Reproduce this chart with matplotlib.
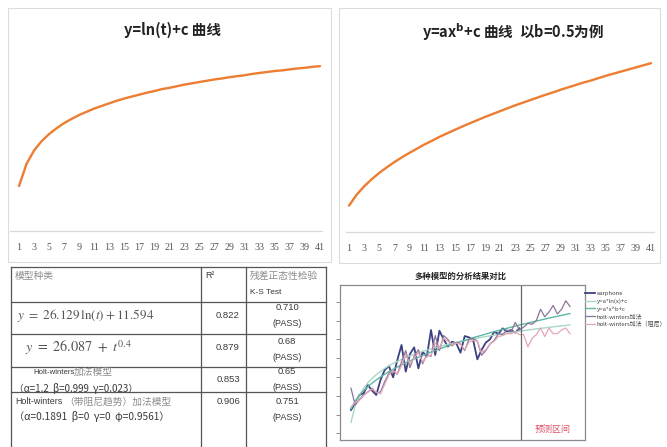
import matplotlib
matplotlib.use("Agg")
import matplotlib.pyplot as plt
from matplotlib.patches import Rectangle

plt.rcParams['font.family'] = ['DejaVu Sans', 'Noto Sans CJK SC']

W, H = 667, 447
CJK = ['Noto Sans CJK SC', 'DejaVu Sans']
ORANGE = '#ED7D31'

# ---- data -------------------------------------------------------------
t_top = list(range(1, 42))
tick_top = list(range(1, 42, 2))

# y = ln(t) + c  (c taken as 0)
log_curve = [0.00, 0.69, 1.10, 1.39, 1.61, 1.79, 1.95, 2.08, 2.20, 2.30,
             2.40, 2.48, 2.56, 2.64, 2.71, 2.77, 2.83, 2.89, 2.94, 3.00,
             3.04, 3.09, 3.14, 3.18, 3.22, 3.26, 3.30, 3.33, 3.37, 3.40,
             3.43, 3.47, 3.50, 3.53, 3.56, 3.58, 3.61, 3.64, 3.66, 3.69, 3.71]

# y = a*x^b + c with b = 0.5
pow_curve = [1.00, 1.41, 1.73, 2.00, 2.24, 2.45, 2.65, 2.83, 3.00, 3.16,
             3.32, 3.46, 3.61, 3.74, 3.87, 4.00, 4.12, 4.24, 4.36, 4.47,
             4.58, 4.69, 4.80, 4.90, 5.00, 5.10, 5.20, 5.29, 5.39, 5.48,
             5.57, 5.66, 5.74, 5.83, 5.92, 6.00, 6.08, 6.16, 6.24, 6.32, 6.40]

# model comparison: 41 observed months + 12 forecast months
t_obs = list(range(1, 42))
t_all = list(range(1, 54))

earphone = [24.8, 31.9, 40.8, 42.6, 51.4, 45.4, 40.8, 56.7, 67.4, 71.6,
            59.6, 78.0, 94.0, 65.6, 84.4, 91.5, 69.1, 86.9, 81.6, 109.9,
            83.3, 109.2, 100.0, 92.2, 97.5, 95.7, 85.8, 103.5, 102.1, 99.3,
            78.7, 88.7, 96.5, 100.0, 108.2, 105.7, 111.7, 108.2, 109.9, 107.1, 111.7]

fit_ln = [11.6, 29.7, 40.3, 47.8, 53.7, 58.4, 62.4, 65.9, 69.0, 71.8,
          74.3, 76.5, 78.6, 80.6, 82.4, 84.0, 85.6, 87.1, 88.5, 89.9,
          91.1, 92.4, 93.5, 94.6, 95.7, 96.7, 97.7, 98.7, 99.6, 100.5,
          101.3, 102.2, 103.0, 103.7, 104.5, 105.2, 105.9, 106.6, 107.3, 108.0,
          108.6, 109.3, 109.9, 110.5, 111.1, 111.6, 112.2, 112.7, 113.3, 113.8,
          114.3, 114.8, 115.3]

fit_pow = [26.1, 34.4, 40.5, 45.4, 49.7, 53.4, 56.8, 59.9, 62.8, 65.5,
           68.1, 70.5, 72.8, 75.0, 77.1, 79.1, 81.0, 82.9, 84.7, 86.5,
           88.2, 89.8, 91.4, 93.0, 94.5, 96.0, 97.5, 98.9, 100.3, 101.7,
           103.0, 104.3, 105.6, 106.9, 108.1, 109.4, 110.6, 111.7, 112.9, 114.0,
           115.2, 116.3, 117.3, 118.4, 119.5, 120.5, 121.5, 122.6, 123.6, 124.5,
           125.5, 126.5, 127.4]

hw_add = [48, 30, 36, 41, 44, 48, 43, 44, 55, 64,
          66, 63, 76, 88, 70, 82, 89, 74, 84, 82,
          104, 88, 104, 100, 93, 97, 95, 88, 100, 101,
          98, 83, 88, 95, 99, 106, 105, 110, 108, 118,
          110, 113, 117, 116, 120, 132, 124, 129, 136, 127,
          132, 141, 135]

hw_damped = [28, 33, 35, 40, 44, 47, 44, 42, 52, 62,
             67, 63, 72, 84, 74, 80, 86, 76, 82, 83,
             96, 90, 101, 98, 94, 96, 95, 89, 97, 99,
             98, 86, 89, 95, 98, 103, 104, 106, 106, 108,
             105, 105, 92, 101, 105, 112, 103, 112, 106, 106,
             110, 112, 106]

forecast_start = 41.3
y_ticks = [0, 20, 40, 60, 80, 100, 120, 140]

legend_labels = ['earphone', 'y=a*ln(x)+c', 'y=a*x^b+c',
                 'holt-winters加法', 'holt-winters加法（阻尼）']

# table contents
tbl_head = ['模型种类', 'R²', '残差正态性检验', 'K-S Test']
r2_vals = ['0.822', '0.879', '0.853', '0.906']
ks_vals = ['0.710', '0.68', '0.65', '0.751']


def box(l, t, r, b):
    return [l / W, 1 - b / H, (r - l) / W, (b - t) / H]


fig = plt.figure(figsize=(W / 100, H / 100), dpi=100)
fig.patch.set_facecolor('white')

# canvas in pixel coordinates for frames, table and free text
cv = fig.add_axes([0, 0, 1, 1], zorder=0)
cv.set_xlim(0, W)
cv.set_ylim(H, 0)
cv.axis('off')

# panel frames
for (l, t, r, b) in [(8, 8, 331, 262), (339, 8, 660, 263)]:
    cv.add_patch(Rectangle((l, t), r - l, b - t, fill=False,
                           ec='#dcdcdc', lw=0.8))


def curve_panel(pos, xs, ys, xlim, ylim):
    ax = fig.add_axes(box(*pos), zorder=2)
    ax.set_facecolor('none')
    ax.plot(xs, ys, color=ORANGE, lw=1.7, solid_capstyle='round')
    ax.set_xlim(*xlim)
    ax.set_ylim(*ylim)
    for s in ['left', 'right', 'top']:
        ax.spines[s].set_visible(False)
    ax.spines['bottom'].set_color('#d9d9d9')
    ax.spines['bottom'].set_linewidth(0.9)
    ax.set_yticks([])
    ax.set_xticks(tick_top)
    ax.set_xticklabels([str(v) for v in tick_top], fontsize=7.2,
                       color='#555555', family='Liberation Serif')
    ax.tick_params(axis='x', length=0, pad=8.5)
    return ax


curve_panel((10, 50, 322, 231), t_top, log_curve, (-0.2, 41.27), (-1.39, 4.21))
curve_panel((346, 50, 654, 232), t_top, pow_curve, (0.6, 41.4), (0.0, 6.9))

cv.text(173, 30, 'y=ln(t)+c 曲线', ha='center', va='center', fontsize=10.5,
        fontweight='bold', family=CJK, color='#222222')
cv.text(513, 32, r'y=ax$^{\mathbf{b}}$+c 曲线  以b=0.5为例', ha='center', va='center',
        fontsize=10.5, fontweight='bold', family=CJK, color='#222222')

# ---- table -----------------------------------------------------------
LC = '#555555'
TL, TR, C1, C2 = 11, 326, 201, 246
rows_y = [267, 302, 334, 367, 392]
for y in rows_y:
    cv.plot([TL, TR], [y, y], color=LC, lw=0.9)
for x in [TL, C1, C2, TR]:
    cv.plot([x, x], [rows_y[0], H], color=LC, lw=0.9)

grey_cn = '#8c8c8c'
dark = '#3a3a3a'
SANS = 'Liberation Sans'
cv.text(15, 276, tbl_head[0], ha='left', va='center', fontsize=7, family=CJK, color=grey_cn)
cv.text(205, 276, tbl_head[1], ha='left', va='center', fontsize=6.3, family=SANS, color=dark)
cv.text(250, 276, tbl_head[2], ha='left', va='center', fontsize=7, family=CJK, color=grey_cn)
cv.text(250, 293, tbl_head[3], ha='left', va='center', fontsize=6, family=SANS, color=dark)

cv.text(17, 315, r'$y\ =\ 26.129\,\ln(t) + 11.594$', ha='left', va='center',
        fontsize=9.5, color='#555555', math_fontfamily='stix')
cv.text(25, 348, r'$y\ =\ 26.087\ +\ t^{0.4}$', ha='left', va='center',
        fontsize=10.3, color='#555555', math_fontfamily='stix')
cv.text(33, 372, 'Holt-winters', ha='left', va='center', fontsize=5.6,
        family=SANS, color=dark)
cv.text(74, 372, '加法模型', ha='left', va='center', fontsize=7, family=CJK, color=grey_cn)
cv.text(14, 388, '（α=1.2  β=0.999  γ=0.023）', ha='left', va='center',
        fontsize=7, family=CJK, color=dark)
cv.text(15, 402, 'Holt-winters', ha='left', va='center', fontsize=6.4,
        family=SANS, color=dark)
cv.text(64, 402, '（带阻尼趋势）加法模型', ha='left', va='center', fontsize=7,
        family=CJK, color=grey_cn)
cv.text(14, 417, '（α=0.1891  β=0  γ=0  φ=0.9561）', ha='left', va='center',
        fontsize=7.3, family=CJK, color=dark)

r2_y = [315, 348, 380, 402]
ks_y = [(308, 323), (341, 357), (372, 388), (402, 417)]
for v, y in zip(r2_vals, r2_y):
    cv.text(240, y, v, ha='right', va='center', fontsize=6.8, family=SANS, color=dark)
for v, (y1, y2) in zip(ks_vals, ks_y):
    cv.text(287, y1, v, ha='center', va='center', fontsize=6.8, family=SANS, color=dark)
    cv.text(287, y2, '(PASS)', ha='center', va='center', fontsize=6.5, family=SANS, color=dark)

# ---- model comparison chart ---------------------------------------------
ax = fig.add_axes(box(340, 285, 585, 440), zorder=2)
ax.set_facecolor('white')
ax.plot(t_obs, earphone, color='#3c4182', lw=1.3, label=legend_labels[0])
ax.plot(t_all, fit_ln, color='#a8d8c6', lw=1.0, label=legend_labels[1])
ax.plot(t_all, fit_pow, color='#5db7a4', lw=1.0, label=legend_labels[2])
ax.plot(t_all, hw_add, color='#8e7498', lw=0.9, label=legend_labels[3])
ax.plot(t_all, hw_damped, color='#e3a6b8', lw=0.9, label=legend_labels[4])
ax.axvline(forecast_start, color='#666666', lw=0.9)
ax.set_xlim(-1.61, 56.56)
ax.set_ylim(-7.1, 157.8)
ax.set_yticks(y_ticks)
ax.set_yticklabels([])
ax.set_xticks([])
ax.tick_params(axis='y', length=3, width=0.6, color='#777777', direction='out')
for s in ax.spines.values():
    s.set_color('#8a8a8a')
    s.set_linewidth(0.9)
ax.text(48.8, 4.6, '预测区间', ha='center', va='center', fontsize=6.5,
        family=CJK, color='#e0506a')
leg = ax.legend(loc='upper left', bbox_to_anchor=(1.0, 0.96), frameon=False,
                fontsize=4.3, handlelength=1.6, handletextpad=0.4,
                labelspacing=0.35, borderaxespad=0.0, borderpad=0.0)
for txt in leg.get_texts():
    txt.set_family(CJK)
    txt.set_color('#444444')

cv.text(461, 276, '多种模型的分析结果对比', ha='center', va='center', fontsize=6,
        fontweight='bold', family=CJK, color='#222222')

fig.savefig('out.png', dpi=100, facecolor='white')
